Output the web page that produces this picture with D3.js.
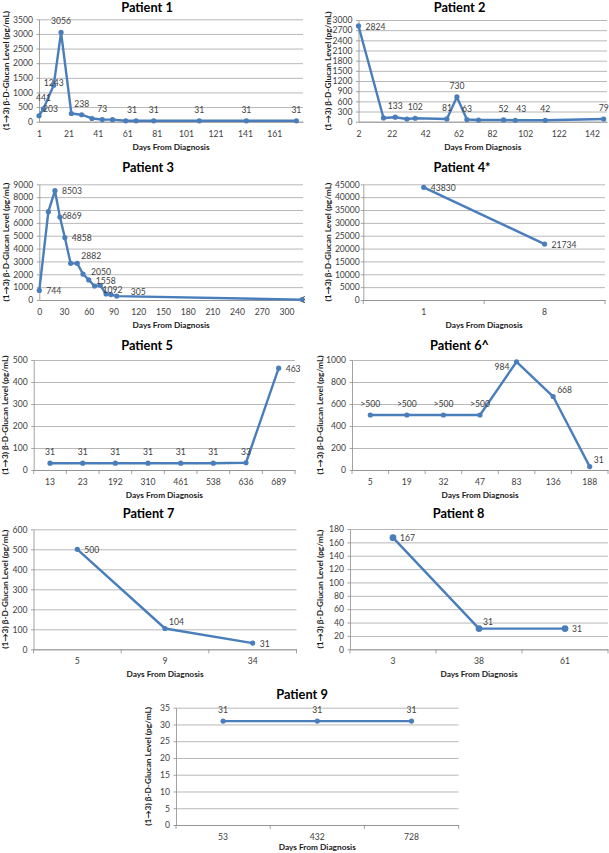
<!DOCTYPE html>
<html><head><meta charset="utf-8">
<script src="https://cdn.jsdelivr.net/npm/d3@7"></script>
<style>
body{margin:0;background:#fff}
svg{display:block}
text{font-family:Lato,"Open Sans",sans-serif}
</style>
</head><body>
<svg id="chart" width="609" height="853"></svg>
<script>
// ---------------- DATA ----------------
const yTitleText = "(1\u21923) \u03B2-D-Glucan Level (pg/mL)";
const xTitleText = "Days From Diagnosis";

// Patient 1 (date axis)
const p1Days   = [1, 4, 11, 16, 23, 30, 37, 44, 51, 60, 67, 79, 110, 142, 176];
const p1Values = [203, 441, 1243, 3056, 280, 238, 110, 73, 70, 31, 31, 31, 31, 31, 31];
const p1Labels = ["203","441","1243","3056",null,"238",null,"73",null,null,"31","31","31","31","31"];
const p1LabelPos = ["ar","a","c","a",null,"a",null,"a",null,null,"al","a","a","a","a"];
const p1XTicks = [1, 21, 41, 61, 81, 101, 121, 141, 161];

// Patient 2 (date axis)
const p2Days   = [2, 17, 24, 31, 36, 55, 61, 67, 74, 89, 96, 114, 149];
const p2Values = [2824, 110, 133, 80, 102, 81, 730, 63, 50, 52, 43, 42, 79];
const p2Labels = ["2824",null,"133",null,"102","81","730","63",null,"52","43","42","79"];
const p2LabelPos = ["r",null,"a",null,"a","a","a","a",null,"a","ax","a","a"];
const p2XTicks = [2, 22, 42, 62, 82, 102, 122, 142];

// Patient 3 (date axis)
const p3Days   = [0, 11, 19, 25, 31, 38, 46, 53, 60, 67, 74, 81, 87, 94, 319];
const p3Values = [744, 6869, 8503, 6450, 4858, 2850, 2850, 2020, 1560, 1090, 1140, 470, 420, 305, 31];
const p3Labels = ["744",null,"8503","6869","4858",null,"2882","2050","1558","1092",null,null,null,"305","31"];
const p3LabelPos = ["r",null,"r","rn","r",null,"ar","ra","r","rb",null,null,null,"rf","r0"];
const p3XTicks = [0, 30, 60, 90, 120, 150, 180, 210, 240, 270, 300];

// Patient 4 (category axis)
const p4Cats   = ["1", "8"];
const p4Values = [43830, 21734];
const p4Labels = ["43830", "21734"];
const p4LabelPos = ["r", "r"];

// Patient 5
const p5Cats   = ["13", "23", "192", "310", "461", "538", "636", "689"];
const p5Values = [31, 31, 31, 31, 31, 31, 33, 463];
const p5Labels = ["31","31","31","31","31","31","33","463"];
const p5LabelPos = ["a","a","a","a","a","a","a","r"];

// Patient 6
const p6Cats   = ["5", "19", "32", "47", "83", "136", "188"];
const p6Values = [500, 500, 500, 500, 984, 668, 31];
const p6Labels = [">500",">500",">500",">500","984","668","31"];
const p6LabelPos = ["a","a","a","a","l","ar","ar"];

// Patient 7
const p7Cats   = ["5", "9", "34"];
const p7Values = [500, 104, 31];
const p7Labels = ["500","104","31"];
const p7LabelPos = ["r","ar","r"];

// Patient 8
const p8Cats   = ["3", "38", "61"];
const p8Values = [167, 31, 31];
const p8Labels = ["167","31","31"];
const p8LabelPos = ["r","ar","r"];

// Patient 9
const p9Cats   = ["53", "432", "728"];
const p9Values = [31, 31, 31];
const p9Labels = ["31","31","31"];
const p9LabelPos = ["a","a","a"];

// ---------------- LAYOUT ----------------
const panels = [
  {title:"Patient 1", type:"date", x:p1Days, v:p1Values, lab:p1Labels, pos:p1LabelPos, xTicks:p1XTicks, xDomain:[1,180.5],
   box:[39,19.3,303,121.7], yMax:3500, yStep:500, titleX:147, titleY:7.6, yTitleX:6, clipR:305},
  {title:"Patient 2", type:"date", x:p2Days, v:p2Values, lab:p2Labels, pos:p2LabelPos, xTicks:p2XTicks, xDomain:[2,151],
   box:[358.5,20,607,121.7], yMax:3000, yStep:300, titleX:459.5, titleY:7.6, yTitleX:328, clipR:609},
  {title:"Patient 3", type:"date", x:p3Days, v:p3Values, lab:p3Labels, pos:p3LabelPos, xTicks:p3XTicks, xDomain:[0,320],
   box:[39.3,184.3,303,300], yMax:9000, yStep:1000, titleX:148, titleY:167.7, yTitleX:6, clipR:305},
  {title:"Patient 4*", type:"cat", cats:p4Cats, v:p4Values, lab:p4Labels, pos:p4LabelPos, yPad:1,
   box:[363.3,184.3,605,300], yMax:45000, yStep:5000, titleX:462, titleY:167.7, yTitleX:328, clipR:609},
  {title:"Patient 5", type:"cat", cats:p5Cats, v:p5Values, lab:p5Labels, pos:p5LabelPos,
   box:[33.7,360,295,470], yMax:500, yStep:100, titleX:147, titleY:345, yTitleX:5, clipR:305},
  {title:"Patient 6^", type:"cat", cats:p6Cats, v:p6Values, lab:p6Labels, pos:p6LabelPos,
   box:[352,360,608,470], yMax:1000, yStep:200, titleX:459.5, titleY:345, yTitleX:320, clipR:609},
  {title:"Patient 7", type:"cat", cats:p7Cats, v:p7Values, lab:p7Labels, pos:p7LabelPos,
   box:[33.5,529.3,296.5,649.3], yMax:600, yStep:100, titleX:148.5, titleY:513.3, yTitleX:5, clipR:305},
  {title:"Patient 8", type:"cat", cats:p8Cats, v:p8Values, lab:p8Labels, pos:p8LabelPos, r:3.4,
   box:[350,529,608,649.3], yMax:180, yStep:20, titleX:458.5, titleY:513.3, yTitleX:320, clipR:609},
  {title:"Patient 9", type:"cat", cats:p9Cats, v:p9Values, lab:p9Labels, pos:p9LabelPos, xTitleOff:22.5,
   box:[176,707.7,458.6,825], yMax:35, yStep:5, titleX:302, titleY:694, yTitleX:148, clipR:609}
];

const LINE = "#4a7ebb", GRID = "#a6a6a6", AXIS = "#8c8c8c", TXT = "#404040";
const TICK_FS = 8.6, LAB_FS = 8.6, TITLE_FS = 12.8, AX_FS = 8.3;

const svg = d3.select("#chart");
svg.append("rect").attr("width",609).attr("height",853).attr("fill","#fff");
const defs = svg.append("defs");

const labelOffsets = {
  a:  {dx:0,  dy:-11, anchor:"middle"},
  ax: {dx:6,  dy:-11, anchor:"middle"},
  al: {dx:-4, dy:-11, anchor:"middle"},
  c:  {dx:0,  dy:-2,  anchor:"middle"},
  r:  {dx:7,  dy:0.5, anchor:"start"},
  ra: {dx:8,  dy:-2,  anchor:"start"},
  rb: {dx:8,  dy:3.5, anchor:"start"},
  rn: {dx:2,  dy:-1,  anchor:"start"},
  rf: {dx:14, dy:-4,  anchor:"start"},
  r0: {dx:0,  dy:0,   anchor:"start"},
  ar: {dx:4,  dy:-7,  anchor:"start"},
  l:  {dx:-7, dy:5,   anchor:"end"}
};

panels.forEach((p, i) => {
  const [L, T, R, B] = p.box;
  const g = svg.append("g");
  const y = d3.scaleLinear().domain([0, p.yMax]).range([B, T]);
  const yTicks = d3.range(0, p.yMax + 1e-9, p.yStep);

  // gridlines
  g.append("g").attr("transform", `translate(${L},0)`)
    .call(d3.axisLeft(y).tickValues(yTicks).tickSize(-(R - L)).tickFormat(""))
    .call(a => a.select(".domain").remove())
    .call(a => a.selectAll("line").attr("stroke", GRID).attr("stroke-width", 0.8));
  // y axis with short outside ticks and labels
  g.append("g").attr("transform", `translate(${L},0)`)
    .call(d3.axisLeft(y).tickValues(yTicks).tickSize(2.5).tickPadding(p.yPad !== undefined ? p.yPad : 3.5).tickSizeOuter(0).tickFormat(d3.format("d")))
    .call(a => a.select(".domain").attr("stroke", AXIS).attr("stroke-width", 0.8))
    .call(a => a.selectAll("line").attr("stroke", AXIS).attr("stroke-width", 0.8))
    .call(a => a.selectAll("text").attr("fill", TXT).attr("font-size", TICK_FS).attr("font-family", "Lato"));

  // x axis
  let xs;
  if (p.type === "date") {
    const x = d3.scaleLinear().domain(p.xDomain).range([L, R]);
    xs = p.x.map(d => x(d));
    g.append("g").attr("transform", `translate(0,${B})`)
      .call(d3.axisBottom(x).tickValues(p.xTicks).tickSize(0).tickPadding(9).tickSizeOuter(0).tickFormat(d3.format("d")))
      .call(a => a.select(".domain").attr("stroke", AXIS).attr("stroke-width", 0.8))
      .call(a => a.selectAll("text").attr("fill", TXT).attr("font-size", TICK_FS).attr("font-family", "Lato"));
  } else {
    const x = d3.scaleBand().domain(p.cats).range([L, R]);
    xs = p.cats.map(c => x(c) + x.bandwidth() / 2);
    g.append("g").attr("transform", `translate(0,${B})`)
      .call(d3.axisBottom(x).tickSize(0).tickPadding(9).tickSizeOuter(0))
      .call(a => a.select(".domain").attr("stroke", AXIS).attr("stroke-width", 0.8))
      .call(a => a.selectAll("text").attr("fill", TXT).attr("font-size", TICK_FS).attr("font-family", "Lato"));
    const bounds = p.cats.map(c => x(c)).concat([R]);
    g.selectAll("line.bt").data(bounds).join("line").attr("class","bt")
      .attr("x1", d => d).attr("x2", d => d).attr("y1", B).attr("y2", B + 4)
      .attr("stroke", AXIS).attr("stroke-width", 0.8);
  }

  // titles
  g.append("text").attr("x", p.titleX).attr("y", p.titleY + TITLE_FS * 0.36)
    .attr("text-anchor", "middle").attr("font-size", TITLE_FS).attr("font-weight", "bold")
    .attr("fill", "#000").text(p.title);
  const xOff = p.xTitleOff !== undefined ? p.xTitleOff : 25;
  g.append("text").attr("x", (L + R) / 2).attr("y", B + xOff + AX_FS * 0.36)
    .attr("text-anchor", "middle").attr("font-size", AX_FS).attr("font-weight", "bold")
    .attr("fill", "#1a1a1a").text(xTitleText);
  const cy = (T + B) / 2;
  g.append("text").attr("transform", `translate(${p.yTitleX + AX_FS * 0.36},${cy}) rotate(-90)`)
    .attr("text-anchor", "middle").attr("font-size", AX_FS).attr("font-weight", "bold")
    .attr("fill", "#1a1a1a").text(yTitleText);

  // series
  const pts = p.v.map((v, k) => [xs[k], y(v)]);
  g.append("path").attr("d", d3.line()(pts)).attr("fill", "none")
    .attr("stroke", LINE).attr("stroke-width", 2.4).attr("stroke-linejoin", "round");
  g.selectAll("circle.m").data(pts).join("circle").attr("class","m")
    .attr("cx", d => d[0]).attr("cy", d => d[1]).attr("r", p.r || 2.6).attr("fill", LINE);

  // data labels (clipped to the chart area)
  const cid = "clip" + i;
  defs.append("clipPath").attr("id", cid).append("rect")
    .attr("x", 0).attr("y", 0).attr("width", p.clipR).attr("height", 853);
  const lg = g.append("g").attr("clip-path", `url(#${cid})`);
  p.lab.forEach((t, k) => {
    if (t === null) return;
    const o = labelOffsets[p.pos[k]];
    lg.append("text").attr("x", pts[k][0] + o.dx).attr("y", pts[k][1] + o.dy + LAB_FS * 0.36)
      .attr("text-anchor", o.anchor).attr("font-size", LAB_FS).attr("fill", TXT).text(t);
  });
});
</script>
</body></html>
